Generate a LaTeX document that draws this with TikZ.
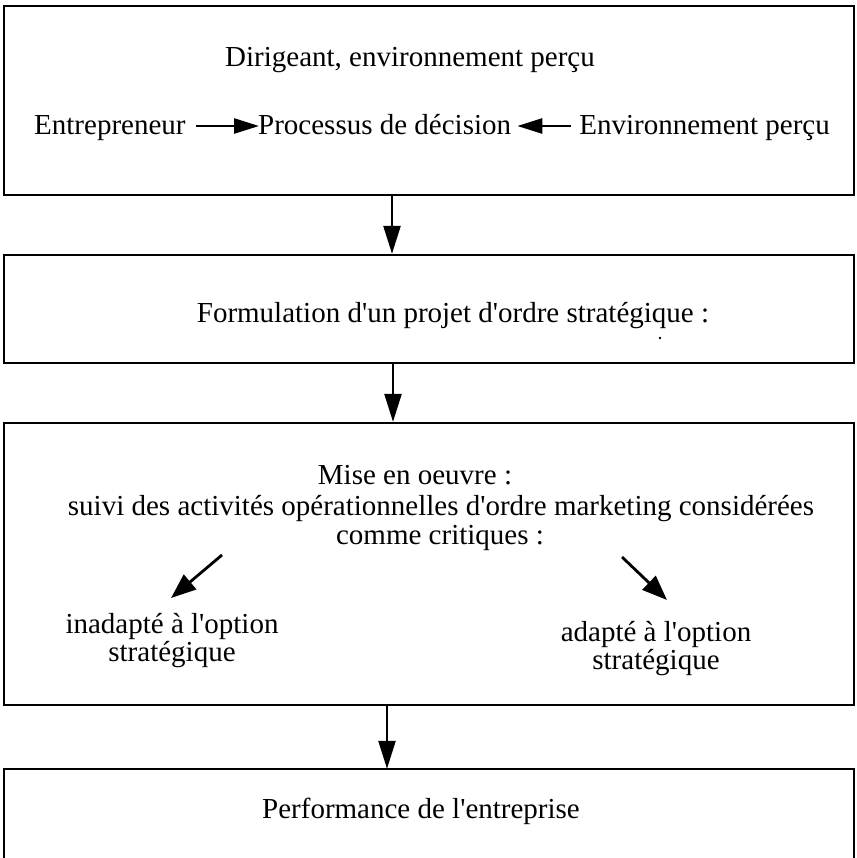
\documentclass[tikz,border=0pt]{standalone}
\usepackage{fontspec}
\setmainfont{Liberation Serif}
\usetikzlibrary{arrows.meta}
\newcommand\ap{\textquotesingle}
\begin{document}
\begin{tikzpicture}[x=1pt,y=-1pt,
  frame/.style={draw, line width=2.3pt, inner sep=0pt, minimum width=850pt},
  txt/.style={font=\fontsize{29}{34}\selectfont, inner sep=0pt, anchor=base},
  flow/.style={line width=2.4pt, -{Triangle[length=28pt,width=17pt]}},
  rowarrow/.style={line width=2.6pt, -{Triangle[length=25pt,width=15pt]}},
  diag/.style={line width=2.8pt, -{Triangle[length=25pt,width=19pt]}}]
\useasboundingbox (0,0) rectangle (856,858);
\fill[white] (0,0) rectangle (856,858);

% boxes
\node[frame, minimum height=189pt] (b1) at (429,100.5) {};
\node[frame, minimum height=108pt] (b2) at (429,309) {};
\node[frame, minimum height=282pt] (b3) at (429,564) {};
\node[inner sep=0pt, minimum width=850pt, minimum height=89pt] (b4) at (429,813.5) {};
\draw[line width=2.3pt] (b4.south west) -- (b4.north west) -- (b4.north east) -- (b4.south east);

% box 1
\node[txt] (dir) at (410,67) {Dirigeant, environnement perçu};
\node[txt, anchor=base west] (ent) at (34,135) {Entrepreneur};
\node[txt, anchor=base west] (proc) at (258,135) {Processus de décision};
\node[txt, anchor=base east] (env) at (830,135) {Environnement perçu};
\draw[rowarrow] ([xshift=10pt,yshift=9pt]ent.base east) -- ([xshift=1pt,yshift=9pt]proc.base west);
\draw[rowarrow] ([xshift=-8pt,yshift=9pt]env.base west) -- ([xshift=6pt,yshift=9pt]proc.base east);

% box 2
\node[txt] (form) at (453,322) {Formulation d\ap un projet d\ap ordre stratégique :};
\fill (660,338) circle (1.3pt);

% box 3
\node[txt] (mise) at (415,484) {Mise en oeuvre :};
\node[txt] (suivi) at (441,515) {suivi des activités opérationnelles d\ap ordre marketing considérées};
\node[txt] (comme) at (440,544) {comme critiques :};
\coordinate (la1) at (222,555);
\coordinate (la2) at (171,598);
\coordinate (ra1) at (622,557);
\coordinate (ra2) at (667,600);
\draw[diag] (la1) -- (la2);
\draw[diag] (ra1) -- (ra2);
\node[txt] (inad1) at (172,633) {inadapté à l\ap option};
\node[txt] (inad2) at (172,661) {stratégique};
\node[txt] (ad1) at (656,641) {adapté à l\ap option};
\node[txt] (ad2) at (656,669) {stratégique};

% box 4
\node[txt] (perf) at (421,818) {Performance de l\ap entreprise};

% connectors
\draw[flow] (b1.south -| 392,0) -- (b2.north -| 392,0);
\draw[flow] (b2.south -| 393,0) -- (b3.north -| 393,0);
\draw[flow] (b3.south -| 387,0) -- (b4.north -| 387,0);
\end{tikzpicture}
\end{document}
